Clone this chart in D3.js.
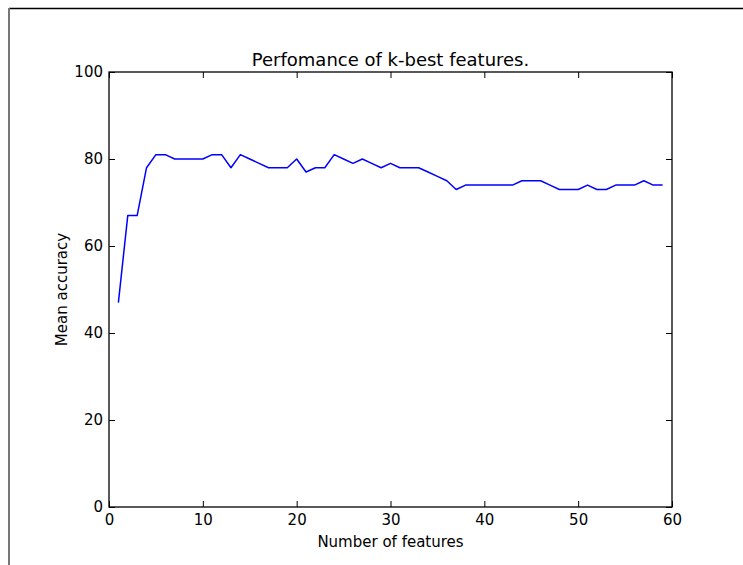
<!DOCTYPE html>
<html>
<head>
<meta charset="utf-8">
<script src="https://cdn.jsdelivr.net/npm/d3@7/dist/d3.min.js"></script>
<style>
  html, body { margin: 0; padding: 0; background: #fff; }
  svg { display: block; }
  text { font-family: "DejaVu Sans", sans-serif; fill: #000; }
</style>
</head>
<body>
<svg id="chart" width="743" height="565"></svg>
<script>
// Number of selected features (k) and the mean accuracy for each k
const numFeatures = d3.range(1, 60);
const meanAccuracy = [
  47, 67, 67, 78, 81, 81, 80, 80, 80, 80,
  81, 81, 78, 81, 80, 79, 78, 78, 78, 80,
  77, 78, 78, 81, 80, 79, 80, 79, 78, 79,
  78, 78, 78, 77, 76, 75, 73, 74, 74, 74,
  74, 74, 74, 75, 75, 75, 74, 73, 73, 73,
  74, 73, 73, 74, 74, 74, 75, 74, 74
];
const xTicks = [0, 10, 20, 30, 40, 50, 60];
const yTicks = [0, 20, 40, 60, 80, 100];

const titleText = "Perfomance of k-best features.";
const xLabelText = "Number of features";
const yLabelText = "Mean accuracy";

const svg = d3.select("#chart");

// Outer frame lines along the top and left edges
svg.append("line").attr("x1", 9).attr("x2", 743).attr("y1", 8.5).attr("y2", 8.5)
  .attr("stroke", "#000").attr("stroke-width", 1.5);
svg.append("line").attr("x1", 9).attr("x2", 9).attr("y1", 8).attr("y2", 565)
  .attr("stroke", "#777").attr("stroke-width", 2);

const plot = { left: 109, right: 672, top: 72, bottom: 507 };

const x = d3.scaleLinear().domain([0, 60]).range([plot.left, plot.right]);
const y = d3.scaleLinear().domain([0, 100]).range([plot.bottom, plot.top]);

const tickLen = 6;

// Axes with inward ticks on all four sides
const axisStyle = g => {
  g.select(".domain").remove();
  g.selectAll(".tick line").attr("stroke", "#000").attr("stroke-width", 1);
  g.selectAll(".tick text").style("font-size", "15px").style("font-family", "DejaVu Sans, sans-serif");
};

svg.append("g").attr("transform", `translate(0,${plot.bottom})`)
  .call(d3.axisBottom(x).tickValues(xTicks).tickFormat(d3.format("d"))
    .tickSizeInner(-tickLen).tickSizeOuter(0).tickPadding(7))
  .call(axisStyle);

svg.append("g").attr("transform", `translate(0,${plot.top})`)
  .call(d3.axisTop(x).tickValues(xTicks).tickFormat("")
    .tickSizeInner(-tickLen).tickSizeOuter(0))
  .call(axisStyle);

svg.append("g").attr("transform", `translate(${plot.left},0)`)
  .call(d3.axisLeft(y).tickValues(yTicks).tickFormat(d3.format("d"))
    .tickSizeInner(-tickLen).tickSizeOuter(0).tickPadding(6))
  .call(axisStyle);

svg.append("g").attr("transform", `translate(${plot.right},0)`)
  .call(d3.axisRight(y).tickValues(yTicks).tickFormat("")
    .tickSizeInner(-tickLen).tickSizeOuter(0))
  .call(axisStyle);

// Data line
const line = d3.line().x((d, i) => x(numFeatures[i])).y(d => y(d));
svg.append("path").datum(meanAccuracy)
  .attr("d", line)
  .attr("fill", "none")
  .attr("stroke", "#0000ff")
  .attr("stroke-width", 1.5)
  .attr("stroke-linejoin", "round");

// Plot frame
svg.append("rect")
  .attr("x", plot.left).attr("y", plot.top)
  .attr("width", plot.right - plot.left).attr("height", plot.bottom - plot.top)
  .attr("fill", "none").attr("stroke", "#000").attr("stroke-width", 1.3);

// Title and axis labels
svg.append("text").attr("x", (plot.left + plot.right) / 2).attr("y", 66)
  .attr("text-anchor", "middle").style("font-size", "18px").text(titleText);

svg.append("text").attr("x", (plot.left + plot.right) / 2).attr("y", 547)
  .attr("text-anchor", "middle").style("font-size", "15px").text(xLabelText);

svg.append("text")
  .attr("transform", `translate(67,${(plot.top + plot.bottom) / 2}) rotate(-90)`)
  .attr("text-anchor", "middle").style("font-size", "15px").text(yLabelText);
</script>
</body>
</html>
